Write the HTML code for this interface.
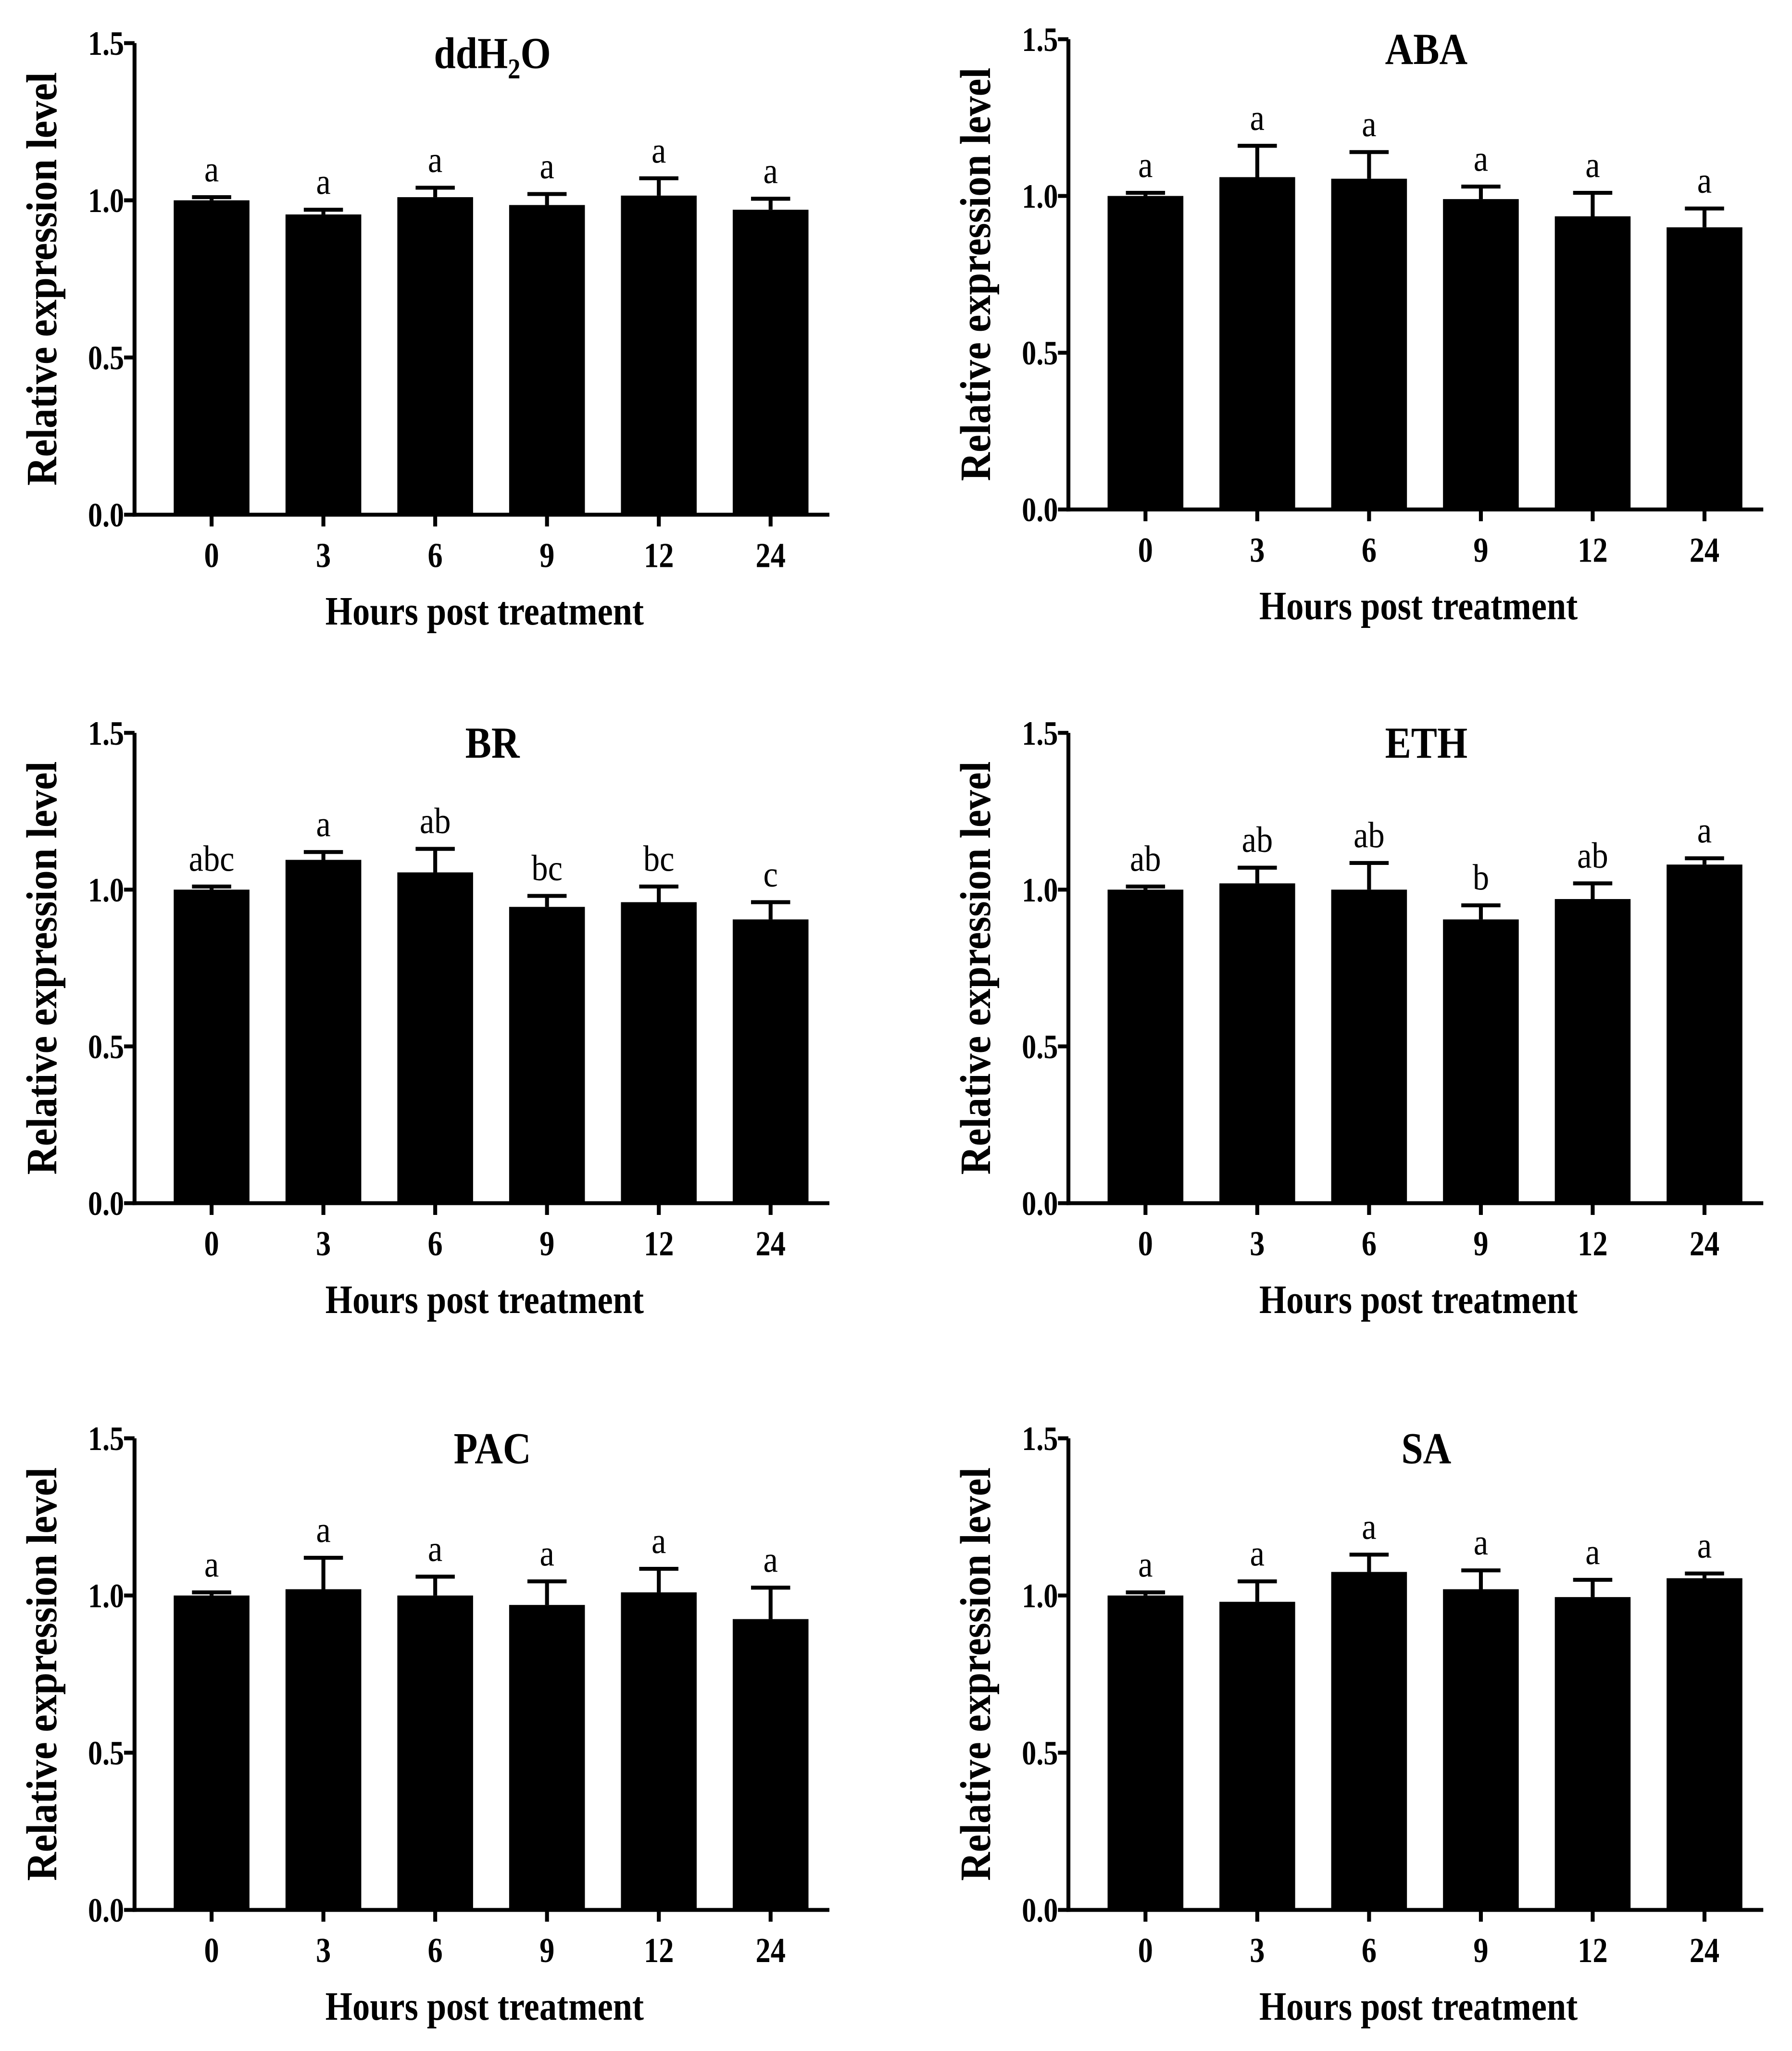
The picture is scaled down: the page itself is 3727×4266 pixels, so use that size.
<!DOCTYPE html>
<html><head><meta charset="utf-8"><style>
html,body{margin:0;padding:0;background:#fff;}
svg{display:block;}
text{font-family:"Liberation Serif",serif;fill:#000;}
</style></head><body>
<svg id="fig" width="3727" height="4266" viewBox="0 0 1372 1570" preserveAspectRatio="none" xmlns="http://www.w3.org/2000/svg"></svg>
<script>
const categories = ["0","3","6","9","12","24"];
const yTicks = [0, 0.5, 1.0, 1.5];
const yTickLabels = ["0.0","0.5","1.0","1.5"];
const panelTitles = ["ddH2O","ABA","BR","ETH","PAC","SA"];
const meansH2O = [1.0,0.955,1.01,0.985,1.015,0.97];
const errH2O = [0.01,0.015,0.03,0.035,0.055,0.035];
const lettersH2O = ["a","a","a","a","a","a"];
const meansABA = [1.0,1.06,1.055,0.99,0.935,0.9];
const errABA = [0.01,0.1,0.085,0.04,0.075,0.06];
const lettersABA = ["a","a","a","a","a","a"];
const meansBR = [1.0,1.095,1.055,0.945,0.96,0.905];
const errBR = [0.01,0.025,0.075,0.035,0.05,0.055];
const lettersBR = ["abc","a","ab","bc","bc","c"];
const meansETH = [1.0,1.02,1.0,0.905,0.97,1.08];
const errETH = [0.01,0.05,0.085,0.045,0.05,0.02];
const lettersETH = ["ab","ab","ab","b","ab","a"];
const meansPAC = [1.0,1.02,1.0,0.97,1.01,0.925];
const errPAC = [0.01,0.1,0.06,0.075,0.075,0.1];
const lettersPAC = ["a","a","a","a","a","a"];
const meansSA = [1.0,0.98,1.075,1.02,0.995,1.055];
const errSA = [0.01,0.065,0.055,0.06,0.055,0.015];
const lettersSA = ["a","a","a","a","a","a"];

const svg = document.getElementById('fig');
const NS = "http://www.w3.org/2000/svg";
function mk(tag, attrs, parent){const e=document.createElementNS(NS,tag);for(const k in attrs)e.setAttribute(k,attrs[k]);parent.appendChild(e);return e;}
function txt(parent, x, y, size, weight, anchor, sx, rot){
  const t = mk('text', {x: 0, y: 0, 'text-anchor': anchor, 'font-size': size, 'font-weight': weight,
    transform: 'translate(' + x + ',' + y + ')' + (rot ? ' rotate(' + rot + ')' : '') + ' scale(' + sx + ',1)'}, parent);
  return t;
}

const panels = [
 {ax:103, top:33, bot:394, data:meansH2O, err:errH2O, let:lettersH2O, name:"ddh2o"},
 {ax:818, top:30, bot:390, data:meansABA, err:errABA, let:lettersABA, name:"aba"},
 {ax:103, top:561, bot:921, data:meansBR, err:errBR, let:lettersBR, name:"br"},
 {ax:818, top:561, bot:921, data:meansETH, err:errETH, let:lettersETH, name:"eth"},
 {ax:103, top:1101, bot:1462, data:meansPAC, err:errPAC, let:lettersPAC, name:"pac"},
 {ax:818, top:1101, bot:1462, data:meansSA, err:errSA, let:lettersSA, name:"sa"}
];

panels.forEach((p, pi) => {
  const g = mk('g', {}, svg);
  
  
  const y = v => p.bot - (v / 1.5) * (p.bot - p.top);
  const x0 = p.ax + 59, step = 85.6;
  const x = i => x0 + i * step;
  const bw = 58;
  p.data.forEach((v, i) => {
    const r = mk('rect', {x: x(i)-bw/2, y: y(v), width: bw, height: p.bot - y(v), fill: '#000'}, g);
    
    
    const top = y(v + p.err[i]);
    const e1 = mk('line', {x1: x(i), x2: x(i), y1: y(v), y2: top, stroke: '#000', 'stroke-width': 3}, g);
    
    
    const e2 = mk('line', {x1: x(i)-15, x2: x(i)+15, y1: top, y2: top, stroke: '#000', 'stroke-width': 3}, g);
    
    
    const t = txt(g, x(i), top - 12, 28, 'normal', 'middle', 0.9);
    t.textContent = p.let[i];
    
    
    const tk = mk('line', {x1: x(i), x2: x(i), y1: p.bot, y2: p.bot + 9, stroke: '#000', 'stroke-width': 3}, g);
    
    
    const tl = txt(g, x(i), p.bot + 40, 27, 'bold', 'middle', 0.85);
    tl.textContent = categories[i];
    
    
  });
  const ya = mk('line', {x1: p.ax, x2: p.ax, y1: p.top, y2: p.bot + 1.5, stroke: '#000', 'stroke-width': 3}, g);
  
  
  const xa = mk('line', {x1: p.ax - 1.5, x2: p.ax + 532, y1: p.bot, y2: p.bot, stroke: '#000', 'stroke-width': 3}, g);
  
  
  yTicks.forEach((v, i) => {
    const tk = mk('line', {x1: p.ax - 8, x2: p.ax, y1: y(v), y2: y(v), stroke: '#000', 'stroke-width': 3}, g);
    
    
    const tl = txt(g, p.ax - 8, y(v) + 9, 26, 'bold', 'end', 0.85);
    tl.textContent = yTickLabels[i];
    
    
  });
  const cx = p.ax + 268;
  const xt = txt(g, cx, p.bot + 84, 31, 'bold', 'middle', 0.86);
  xt.textContent = 'Hours post treatment';
  
  
  const my = (p.top + p.bot) / 2;
  const yt = txt(g, p.ax - 60, my, 33, 'bold', 'middle', 0.92, -90);
  yt.textContent = 'Relative expression level';
  
  
  const tt = txt(g, p.ax + 274, p.top + 19, 34, 'bold', 'middle', 0.88);
  if (pi === 0) {
    tt.textContent = 'ddH';
    const s = mk('tspan', {'font-size': 22, dy: 8}, tt); s.textContent = '2';
    const o = mk('tspan', {dy: -8}, tt); o.textContent = 'O';
  } else {
    tt.textContent = panelTitles[pi];
  }
  
  
});
</script>
</body></html>
